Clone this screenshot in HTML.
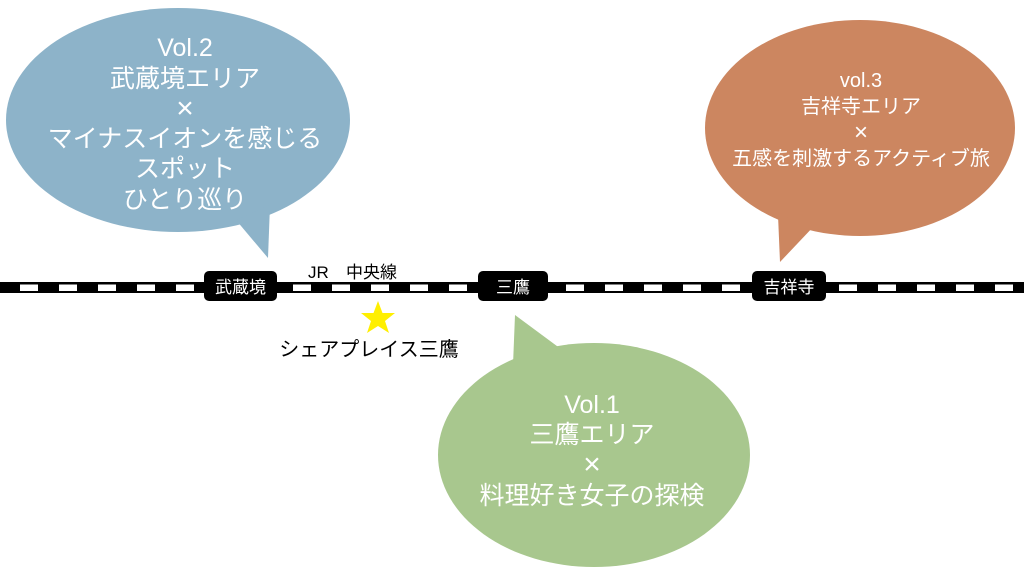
<!DOCTYPE html>
<html><head><meta charset="utf-8"><style>
html,body{margin:0;padding:0;background:#fff;width:1024px;height:576px;overflow:hidden}
svg text{font-family:"Liberation Sans","Noto Sans CJK JP",sans-serif}
</style></head><body>
<svg width="1024" height="576" viewBox="0 0 1024 576" xmlns="http://www.w3.org/2000/svg">
<defs><pattern id="d" x="0" y="0" width="39" height="20" patternUnits="userSpaceOnUse"><rect x="20" y="0" width="18" height="20" fill="#fff"/></pattern></defs>
<ellipse cx="178" cy="120" rx="172" ry="112" fill="#8db3c9"/>
<polygon points="236,220 270,205 268,258" fill="#8db3c9"/>
<ellipse cx="860" cy="128" rx="155" ry="108" fill="#cc8660"/>
<polygon points="778,215 815,225 780,262" fill="#cc8660"/>
<ellipse cx="594" cy="455" rx="156" ry="112" fill="#a8c78e"/>
<polygon points="513,365 565,352 515,315" fill="#a8c78e"/>
<rect x="0" y="282" width="1024" height="11" fill="#000"/>
<rect x="0" y="284.5" width="1024" height="6.5" fill="url(#d)"/>
<rect x="204" y="271" width="73" height="30" rx="5" fill="#000"/>
<text x="240.5" y="293" fill="#fff" font-size="17" text-anchor="middle">武蔵境</text>
<rect x="478" y="271" width="70" height="30" rx="5" fill="#000"/>
<text x="513" y="293" fill="#fff" font-size="17" text-anchor="middle">三鷹</text>
<rect x="752" y="271" width="74" height="30" rx="5" fill="#000"/>
<text x="789" y="293" fill="#fff" font-size="17" text-anchor="middle">吉祥寺</text>
<text x="308" y="278" font-size="17" fill="#000">JR</text>
<text x="346" y="278" font-size="17" fill="#000">中央線</text>
<polygon points="378,301 382.5,313 395,313 385,321 389,333 378,326 367,333 371,321 361,313 373.5,313" fill="#ffef00"/>
<text x="369" y="356" font-size="20" fill="#000" text-anchor="middle">シェアプレイス三鷹</text>
<g fill="#fff" text-anchor="middle" font-size="25">
<text x="185" y="56">Vol.2</text>
<text x="185" y="87">武蔵境エリア</text>
<text x="185" y="118" font-size="30">×</text>
<text x="185" y="147">マイナスイオンを感じる</text>
<text x="185" y="177">スポット</text>
<text x="185" y="208">ひとり巡り</text>
</g>
<g fill="#fff" text-anchor="middle" font-size="20">
<text x="861" y="87">vol.3</text>
<text x="861" y="113">吉祥寺エリア</text>
<text x="861" y="140" font-size="24">×</text>
<text x="861" y="165">五感を刺激するアクティブ旅</text>
</g>
<g fill="#fff" text-anchor="middle" font-size="25">
<text x="592" y="413">Vol.1</text>
<text x="592" y="443">三鷹エリア</text>
<text x="592" y="474" font-size="30">×</text>
<text x="592" y="504">料理好き女子の探検</text>
</g>
</svg>
</body></html>
